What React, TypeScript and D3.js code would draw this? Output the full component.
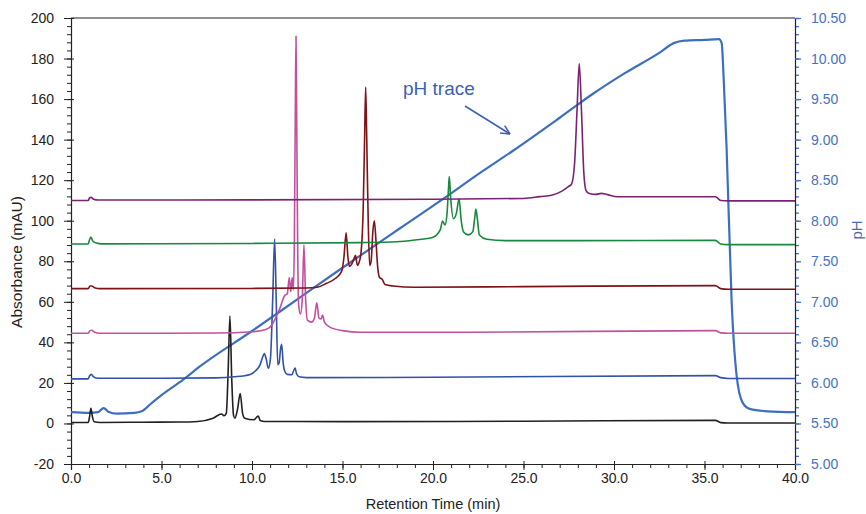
import React, { useEffect, useRef } from 'react';
import * as d3 from 'd3';

type Pt = [number, number];

// axis ticks
const timeTicks = [0, 5, 10, 15, 20, 25, 30, 35, 40];
const absTicks = [-20, 0, 20, 40, 60, 80, 100, 120, 140, 160, 180, 200];
const phTicks = [5.0, 5.5, 6.0, 6.5, 7.0, 7.5, 8.0, 8.5, 9.0, 9.5, 10.0, 10.5];

// pH trace (right axis), [min, pH]
const phTrace: Pt[] = [
  [0, 5.64], [1.0, 5.63], [1.5, 5.64], [1.8, 5.69], [2.1, 5.64], [2.5, 5.62], [3.5, 5.63],
  [3.9, 5.65], [4.4, 5.74], [5.0, 5.85], [6.2, 6.04], [7.1, 6.2], [10.0, 6.64], [12.5, 7.03],
  [15.0, 7.42], [18.2, 7.91], [20.5, 8.26], [22.6, 8.59], [24.4, 8.86], [27.0, 9.27],
  [28.8, 9.56], [30.6, 9.82], [32.5, 10.07], [33.3, 10.19], [33.9, 10.22], [35.0, 10.23],
  [35.8, 10.24], [35.95, 10.19], [36.05, 9.8], [36.22, 8.9], [36.5, 7.0], [36.77, 6.1],
  [37.1, 5.76], [37.5, 5.68], [38.5, 5.65], [40, 5.64],
];

// absorbance traces (left axis), [min, mAU]
const blackTrace: Pt[] = [
  [0, 0.5], [0.95, 0.5], [1.02, 3], [1.1, 7.5], [1.18, 3.5], [1.28, 0.8], [1.6, 0.5], [4, 0.6],
  [6, 0.7], [7, 1.0], [7.85, 2.6], [8.32, 4.7], [8.45, 3.8], [8.58, 5], [8.68, 25], [8.78, 53],
  [8.88, 22], [8.98, 4], [9.06, 2.6], [9.2, 7], [9.35, 14.8], [9.48, 5], [9.6, 2.6], [10.1, 1.8],
  [10.25, 3], [10.35, 3.7], [10.45, 1.5], [10.7, 1.0], [15, 0.9], [25, 1.1], [35.6, 1.5],
  [35.9, 0.4], [36.3, 0.2], [40, 0.2],
];
const blueTrace: Pt[] = [
  [0, 22], [0.95, 22], [1.03, 23.5], [1.12, 24.2], [1.25, 23], [1.5, 22.3], [5, 22.3], [8, 22.5],
  [9.0, 23], [9.9, 24.2], [10.2, 26], [10.45, 29], [10.6, 33], [10.68, 34.5], [10.78, 32],
  [10.9, 27.2], [11.02, 32], [11.14, 60], [11.25, 91], [11.34, 60], [11.42, 29], [11.5, 30],
  [11.58, 37], [11.64, 39], [11.72, 30], [11.8, 26], [11.95, 24.2], [12.2, 24], [12.3, 26],
  [12.38, 27.3], [12.46, 24.5], [12.6, 23], [13, 22.6], [20, 22.8], [35.6, 23.6], [35.9, 22.6],
  [36.3, 22.2], [40, 22.2],
];
const pinkTrace: Pt[] = [
  [0, 44.5], [0.95, 44.5], [1.05, 45.8], [1.15, 46], [1.3, 45], [1.6, 44.5], [8, 44.6], [10, 45.2],
  [10.8, 46.5], [11.1, 48.6], [11.3, 52], [11.55, 57], [11.8, 63], [11.95, 64], [12.06, 72],
  [12.14, 65], [12.22, 72], [12.29, 66], [12.34, 90], [12.39, 150], [12.43, 191], [12.47, 150],
  [12.52, 90], [12.58, 58], [12.68, 54], [12.78, 62], [12.87, 88], [12.96, 62], [13.06, 51],
  [13.3, 50], [13.45, 52], [13.58, 59.5], [13.7, 52], [13.82, 51.5], [13.9, 53.5], [14.0, 50],
  [14.3, 47.5], [15, 45.8], [16, 45], [22, 45], [35.6, 45.8], [35.9, 44.7], [36.3, 44.5], [40, 44.5],
];
const redTrace: Pt[] = [
  [0, 66.5], [0.95, 66.5], [1.05, 67.8], [1.15, 67.8], [1.3, 67], [1.6, 66.5], [10, 66.6],
  [13, 66.8], [13.6, 67.2], [14.1, 69], [14.6, 71.5], [14.95, 75], [15.08, 82], [15.2, 94],
  [15.3, 82], [15.38, 77.5], [15.5, 78.5], [15.6, 80.5], [15.72, 83], [15.82, 78], [15.9, 79],
  [16.02, 84], [16.14, 105], [16.22, 140], [16.28, 166], [16.34, 140], [16.42, 100], [16.5, 78],
  [16.58, 80], [16.68, 95], [16.76, 100], [16.85, 90], [16.94, 77.5], [17.05, 72], [17.2, 71],
  [17.35, 68.5], [17.8, 67.8], [19, 67.2], [25, 67.5], [35.6, 68], [35.9, 66.5], [36.3, 66.2],
  [40, 66.2],
];
const greenTrace: Pt[] = [
  [0, 88.5], [0.95, 88.5], [1.02, 90.5], [1.1, 92], [1.2, 90], [1.4, 89], [1.7, 88.6], [10, 88.8],
  [16, 89.2], [18, 89.6], [19, 90.5], [20.0, 91.9], [20.4, 95.5], [20.53, 99.9], [20.66, 97.9],
  [20.78, 104], [20.85, 115], [20.9, 121.8], [20.97, 112], [21.13, 101], [21.3, 104],
  [21.44, 110.8], [21.56, 100], [21.68, 94.6], [21.96, 93], [22.2, 94.6], [22.3, 101],
  [22.37, 105.7], [22.45, 101], [22.56, 93], [22.97, 90.9], [24, 90.2], [28, 90.2], [35.6, 90.3],
  [35.9, 88.5], [36.3, 88.2], [40, 88.2],
];
const purpleTrace: Pt[] = [
  [0, 110], [0.95, 110], [1.03, 111.3], [1.12, 111.5], [1.25, 110.6], [1.5, 110.2], [10, 110.3],
  [20, 110.6], [25, 111], [25.9, 111.9], [26.6, 112.7], [27.1, 114.5], [27.48, 116.8],
  [27.65, 118], [27.82, 128], [27.96, 155], [28.08, 177.5], [28.2, 155], [28.33, 124],
  [28.45, 115], [28.6, 113.6], [29.0, 113], [29.3, 113.5], [29.6, 113], [30.2, 111.8],
  [35.6, 111.8], [35.9, 110], [36.3, 109.8], [40, 109.8],
];

const traces = [
  { data: blackTrace, color: '#231f20' },
  { data: blueTrace, color: '#3152a8' },
  { data: pinkTrace, color: '#c2509f' },
  { data: redTrace, color: '#7d1217' },
  { data: greenTrace, color: '#16893c' },
  { data: purpleTrace, color: '#7a2272' },
];

const FONT = '"Liberation Sans", Arial, sans-serif';
const PH_BLUE = '#3d6fc0';
const AXIS_BLUE = '#4472c4';

export default function App() {
  const ref = useRef<SVGSVGElement>(null);

  useEffect(() => {
    const svg = d3.select(ref.current);
    svg.selectAll('*').remove();

    const m = { left: 71, right: 795, top: 18, bottom: 464 };
    const x = d3.scaleLinear().domain([0, 40]).range([m.left, m.right]);
    const yA = d3.scaleLinear().domain([-20, 200]).range([m.bottom, m.top]);
    const yP = d3.scaleLinear().domain([5, 10.5]).range([m.bottom, m.top]);

    // minor ticks
    svg.append('g').attr('transform', `translate(0,${m.bottom})`)
      .call(d3.axisBottom(x).tickValues(d3.range(0, 41, 1)).tickSize(4).tickFormat(() => ''))
      .call(g => g.select('.domain').remove())
      .call(g => g.selectAll('line').attr('stroke', '#222'));
    svg.append('g').attr('transform', `translate(${m.left},0)`)
      .call(d3.axisLeft(yA).tickValues(d3.range(-20, 201, 4)).tickSize(4).tickFormat(() => ''))
      .call(g => g.select('.domain').remove())
      .call(g => g.selectAll('line').attr('stroke', '#222'));
    svg.append('g').attr('transform', `translate(${m.right},0)`)
      .call(d3.axisRight(yP).tickValues(d3.range(50, 106, 1).map(v => v / 10)).tickSize(4).tickFormat(() => ''))
      .call(g => g.select('.domain').remove())
      .call(g => g.selectAll('line').attr('stroke', AXIS_BLUE).attr('stroke-width', 1.3));

    // top frame
    svg.append('line').attr('x1', m.left).attr('x2', m.right).attr('y1', m.top).attr('y2', m.top)
      .attr('stroke', '#222').attr('stroke-width', 1.2);

    // major axes
    const xAxis = svg.append('g').attr('transform', `translate(0,${m.bottom})`)
      .call(d3.axisBottom(x).tickValues(timeTicks).tickSize(6).tickPadding(3).tickFormat(d3.format('.1f')));
    xAxis.selectAll('.tick line').attr('y1', -3);

    const yAxis = svg.append('g').attr('transform', `translate(${m.left},0)`)
      .call(d3.axisLeft(yA).tickValues(absTicks).tickSize(7).tickPadding(10).tickFormat(d => String(d)));
    yAxis.selectAll('.tick line').attr('x1', 3);

    const rAxis = svg.append('g').attr('transform', `translate(${m.right},0)`)
      .call(d3.axisRight(yP).tickValues(phTicks).tickSize(6).tickPadding(10).tickFormat(d3.format('.2f')));
    rAxis.selectAll('.tick line').attr('stroke', AXIS_BLUE).attr('stroke-width', 1.3);
    rAxis.selectAll('.tick text').attr('fill', AXIS_BLUE);

    [xAxis, yAxis, rAxis].forEach(g => {
      g.select('.domain').attr('stroke', '#222').attr('stroke-width', 1.2);
      g.selectAll('text').attr('font-family', FONT).attr('font-size', 14);
    });
    xAxis.selectAll('.tick text').attr('fill', '#222');
    yAxis.selectAll('.tick text').attr('fill', '#222');
    xAxis.selectAll('.tick line').attr('stroke', '#222');
    yAxis.selectAll('.tick line').attr('stroke', '#222');

    // pH trace (drawn beneath chromatograms)
    const phLine = d3.line<Pt>().x(d => x(d[0])).y(d => yP(d[1])).curve(d3.curveMonotoneX);
    svg.append('path').datum(phTrace).attr('d', phLine)
      .attr('fill', 'none').attr('stroke', PH_BLUE).attr('stroke-width', 2.2);

    // chromatograms
    const absLine = d3.line<Pt>().x(d => x(d[0])).y(d => yA(d[1])).curve(d3.curveMonotoneX);
    svg.selectAll('.trace').data(traces).join('path').attr('class', 'trace')
      .attr('d', d => absLine(d.data))
      .attr('fill', 'none').attr('stroke', d => d.color).attr('stroke-width', 1.6)
      .attr('stroke-linejoin', 'round');

    // annotation
    svg.append('text').attr('x', 403).attr('y', 95).text('pH trace')
      .attr('font-family', FONT).attr('font-size', 19).attr('fill', '#3b5fb5');
    const ax1 = 465, ay1 = 106, ax2 = 510, ay2 = 134;
    const ang = Math.atan2(ay2 - ay1, ax2 - ax1);
    svg.append('line').attr('x1', ax1).attr('y1', ay1).attr('x2', ax2).attr('y2', ay2)
      .attr('stroke', '#3b5fb5').attr('stroke-width', 1.5);
    [-0.45, 0.45].forEach(a => {
      svg.append('line').attr('x1', ax2).attr('y1', ay2)
        .attr('x2', ax2 - 10 * Math.cos(ang + a)).attr('y2', ay2 - 10 * Math.sin(ang + a))
        .attr('stroke', '#3b5fb5').attr('stroke-width', 1.5);
    });

    // axis titles
    svg.append('text').attr('transform', 'translate(22,262) rotate(-90)')
      .attr('text-anchor', 'middle').attr('font-family', FONT).attr('font-size', 15.5)
      .attr('fill', '#222').text('Absorbance (mAU)');
    svg.append('text').attr('x', (m.left + m.right) / 2).attr('y', 509)
      .attr('text-anchor', 'middle').attr('font-family', FONT).attr('font-size', 14.5)
      .attr('fill', '#222').text('Retention Time (min)');
    svg.append('text').attr('transform', 'translate(862,230) rotate(-90)')
      .attr('text-anchor', 'middle').attr('font-family', FONT).attr('font-size', 15)
      .attr('fill', '#4a6aa8').text('pH');
  }, []);

  return (
    <svg ref={ref} width={866} height={514}
      style={{ position: 'absolute', left: 0, top: 0, background: '#fff' }} />
  );
}
